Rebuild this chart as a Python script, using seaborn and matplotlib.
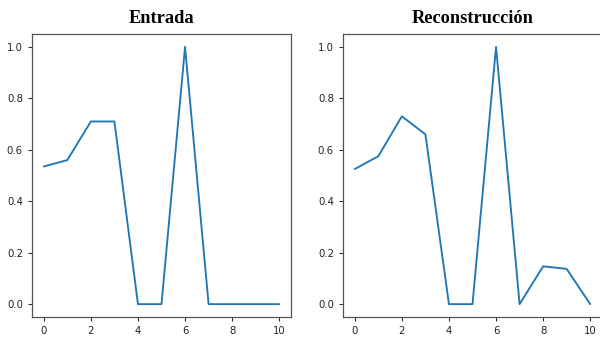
import numpy as np
import matplotlib
matplotlib.use("Agg")
import matplotlib.pyplot as plt
import seaborn as sns

# Data
x = list(range(11))
entrada = [0.535, 0.56, 0.71, 0.71, 0.0, 0.0, 1.0, 0.0, 0.0, 0.0, 0.0]
reconstruccion = [0.525, 0.575, 0.73, 0.66, 0.0, 0.0, 1.0, 0.0, 0.147, 0.137, 0.0]
titles = ["Entrada", "Reconstrucción"]
xticks = [0, 2, 4, 6, 8, 10]
yticks = [0.0, 0.2, 0.4, 0.6, 0.8, 1.0]

sns.set_style("white")
plt.rcParams['font.family'] = ['DejaVu Sans']

fig = plt.figure(figsize=(6.0, 3.39), dpi=100)
W, H = 600, 339
positions = [32, 343]
for left, y, title in zip(positions, [entrada, reconstruccion], titles):
    ax = fig.add_axes([left / W, (H - 317) / H, 259 / W, (317 - 34) / H])
    sns.lineplot(x=x, y=y, ax=ax, color="#1f77b4", linewidth=1.35)
    ax.set_xlim(-0.5, 10.5)
    ax.set_ylim(-0.05, 1.05)
    ax.set_xticks(xticks)
    ax.set_yticks(yticks)
    ax.set_xticklabels([str(t) for t in xticks])
    ax.set_yticklabels([f"{t:.1f}" for t in yticks])
    ax.tick_params(labelsize=7.3, length=3, width=0.8, color="#333333", labelcolor="#222222",
                   left=True, bottom=True)
    for s in ax.spines.values():
        s.set_color("#555555")
        s.set_linewidth(0.9)
    ax.set_title(title, fontsize=13.2, fontweight="bold", color="black",
                 family=["Liberation Serif"], pad=8)

fig.savefig("out.png", dpi=100)
